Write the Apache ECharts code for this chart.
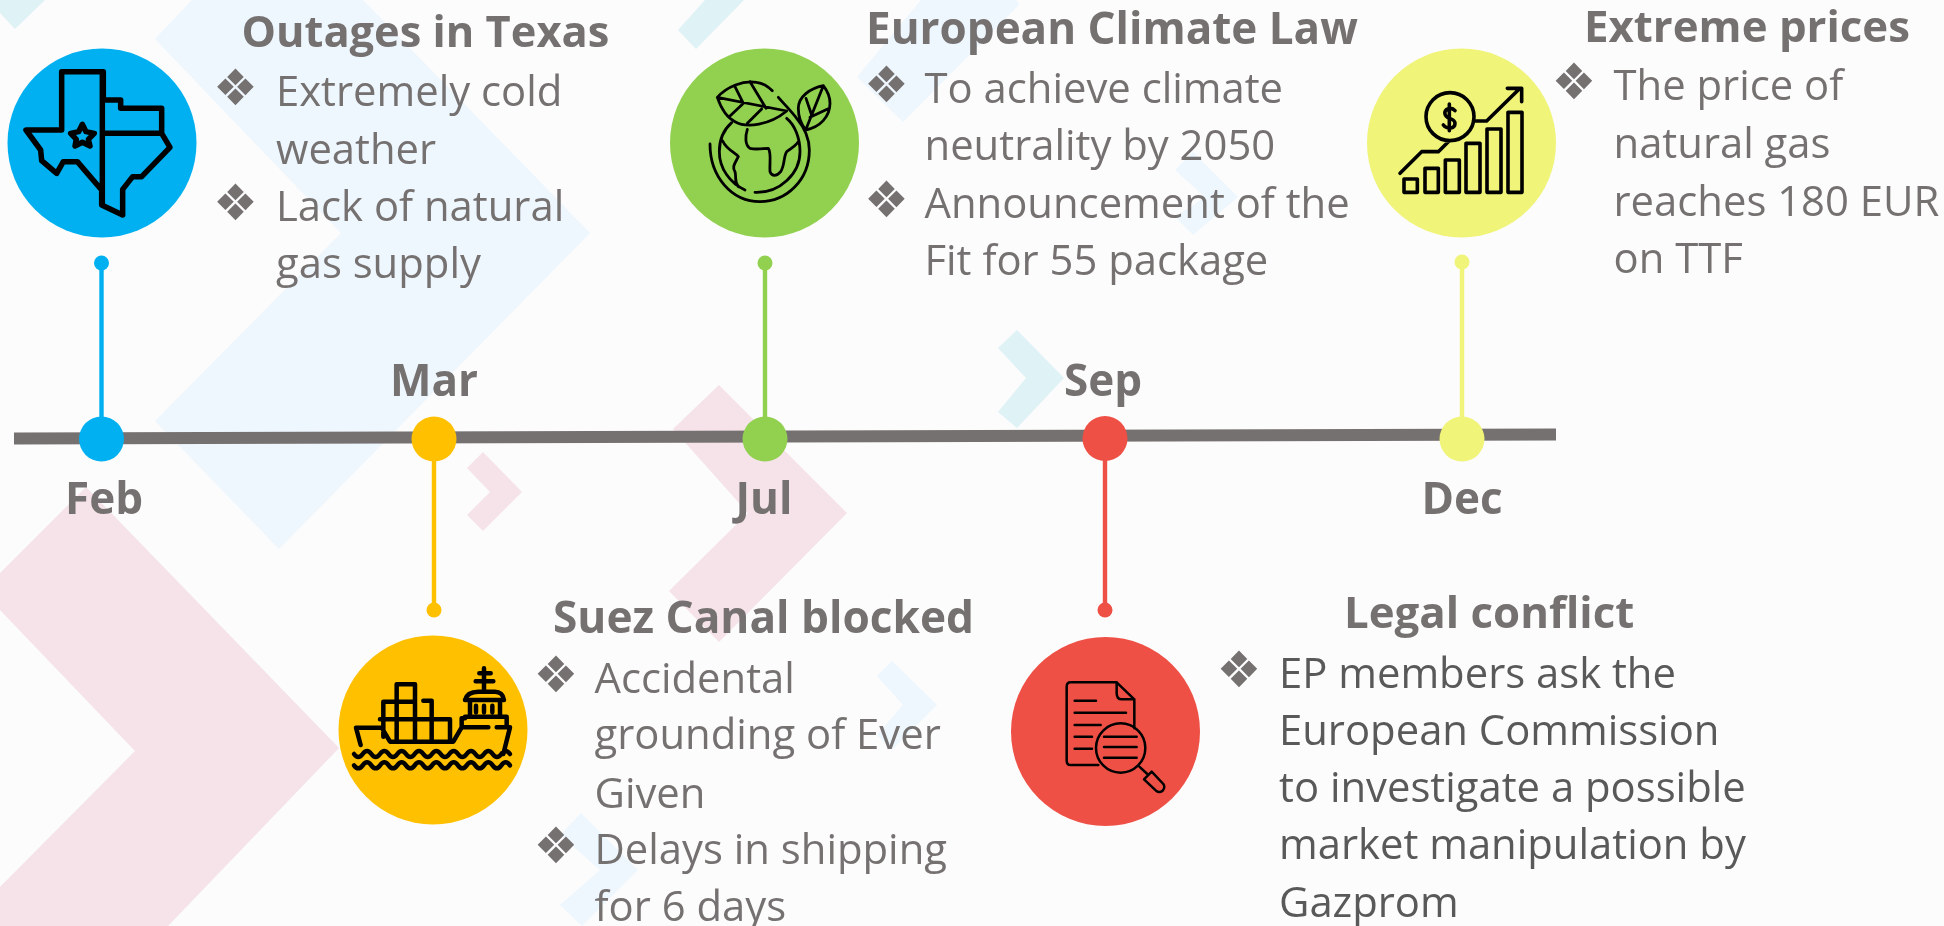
<!DOCTYPE html>
<html>
<head>
<meta charset="utf-8">
<title>Timeline</title>
<style>
  html, body { margin: 0; padding: 0; background: #fcfcfc; }
  #main { width: 1944px; height: 926px; }
</style>
<script src="https://cdn.jsdelivr.net/npm/echarts@6/dist/echarts.min.js"></script>
</head>
<body>
<div id="main"></div>
<script>
// data
var months = ['Feb', 'Mar', 'Jul', 'Sep', 'Dec'];
var titles = ['Outages in Texas', 'Suez Canal blocked', 'European Climate Law', 'Legal conflict', 'Extreme prices'];
var bullets = [
  [['Extremely cold', 'weather'], ['Lack of natural', 'gas supply']],
  [['Accidental', 'grounding of Ever', 'Given'], ['Delays in shipping', 'for 6 days']],
  [['To achieve climate', 'neutrality by 2050'], ['Announcement of the', 'Fit for 55 package']],
  [['EP members ask the', 'European Commission', 'to investigate a possible', 'market manipulation by', 'Gazprom']],
  [['The price of', 'natural gas', 'reaches 180 EUR', 'on TTF']]
];
var eventX = [101.5, 434, 765, 1105, 1462];
var axisY = [439, 439, 439, 438.5, 439];
var stemEndY = [263, 610, 263, 610, 262];
var circleX = [102, 433, 764.5, 1105.5, 1461.5];
var circleY = [143, 730, 143, 731.5, 143];
var timelineX = [14, 1556];
var timelineY = [438.5, 434.5];

var colors = ['#00b0f0', '#ffc000', '#92d050', '#ef5046', '#f0f478'];
var grey = '#767171';
var font = 'Open Sans';

// where each text block sits: title x/baseline, title size, bullet x, body x, baselines of the rows
var textLayout = [
  { tx: 241.5, ty: 46, ts: 43.4, bx: 235.5, lx: 276, rows: [105, 163, 220, 277] },
  { tx: 553, ty: 632, ts: 44.2, bx: 556, lx: 594.5, rows: [692, 748, 807, 863, 920] },
  { tx: 866, ty: 43, ts: 44, bx: 886.5, lx: 924.5, rows: [102, 159, 217, 274] },
  { tx: 1344, ty: 627, ts: 43.8, bx: 1239, lx: 1279, rows: [687, 744, 801, 858, 916], dark: true },
  { tx: 1584, ty: 41, ts: 43.8, bx: 1574, lx: 1613.5, rows: [99, 157, 215, 272] }
];
var monthLabelX = [104, 434, 764, 1103, 1462];
var monthLabelY = [513, 395, 513, 395, 513];

// background chevrons
var chevrons = [
  { color: '#eef7fe', pts: [[192, 0], [363, 0], [590, 233], [279, 549], [155, 421], [341, 233], [155, 39]] },
  { color: '#f5e3e9', pts: [[86, 487], [339, 748], [168, 926], [0, 926], [0, 887], [135, 751], [0, 610], [0, 573]] },
  { color: '#f5e3e9', pts: [[483, 452], [522, 492], [483, 531], [467, 515], [490, 492], [467, 468]] },
  { color: '#f5e3e9', pts: [[719, 385], [847, 513], [719, 642], [669, 591], [748, 513], [673, 429]] },
  { color: '#eef7fe', pts: [[892, 661], [937, 705], [892, 750], [877, 735], [903, 705], [877, 676]] },
  { color: '#eef7fe', pts: [[581, 813], [638, 870], [582, 926], [560, 905], [600, 870], [560, 835]] },
  { color: '#eef7fe', pts: [[921, 0], [1017, 0], [1019, 5], [903, 122], [857, 77]] },
  { color: '#eef7fe', pts: [[1193, 152], [1238, 197], [1193, 235], [1175, 217], [1205, 197], [1175, 170]] },
  { color: '#dff2f6', pts: [[0, 0], [45, 0], [15, 29], [0, 13]] },
  { color: '#dff2f6', pts: [[705, 0], [744, 0], [696, 49], [678, 30]] },
  { color: '#dff2f6', pts: [[1017, 330], [1064, 378], [1017, 428], [998, 412], [1026, 378], [998, 348]] }
];

// icons, drawn in a 630x630 box (3 units per pixel), the two stray moves pin the box
var box = 'M0 0 M630 630 ';
var icons = [
  { cx: 105, cy: 135, lw: 5.5,
    d: box + 'M185 125 H310 V210 H362 V235 H485 V310 L510 352 L425 440 H398 L368 478 V555 L305 525 V480 L232 395 H190 L170 430 L125 392 L122 360 L78 300 H185 Z ' +
      'M185 125 V300 M307 125 V525 M310 310 H485 ' +
      'M247 283 L258 305 L283 310 L265 328 L270 348 L247 337 L225 348 L229 328 L212 310 L236 305 Z' },
  { cx: 435, cy: 735, lw: 4.5,
    d: box + 'M92 345 L78 293 H155 L180 335 H370 L395 292 H475 M500 292 H540 L520 372 ' +
      'M160 320 V215 H200 M200 163 H255 V330 M200 163 V330 M150 268 H360 V330 M280 212 H305 V330 M255 215 H200 ' +
      'M405 260 H530 V292 M395 292 V265 H405 M405 210 C410 190 430 185 445 185 H495 C510 185 520 195 522 210 H405 Z M420 210 V260 M510 210 V260 ' +
      'M438 227 V247 M462 227 V247 M487 227 V247 M462 115 V185 M437 154 H490 M448 130 H482 ' +
      'M72 372 Q85 390 98 372 T124 372 T150 372 T176 372 T202 372 T228 372 T254 372 T280 372 T306 372 T332 372 T358 372 T384 372 T410 372 T436 372 T462 372 T488 372 T514 372 T540 372 ' +
      'M72 406 Q85 424 98 406 T124 406 T150 406 T176 406 T202 406 T228 406 T254 406 T280 406 T306 406 T332 406 T358 406 T384 406 T410 406 T436 406 T462 406 T488 406 T514 406 T540 406' },
  { cx: 765, cy: 145, lw: 2.8,
    d: box + 'M172 172 C200 140 250 120 290 127 C310 130 325 140 337 152 M172 172 L380 213 M172 172 C185 210 205 235 225 245 C260 265 330 255 380 213 ' +
      'M225 140 L250 190 M270 125 L318 205 M248 192 L210 228 M305 207 L262 250 ' +
      'M490 137 C450 145 415 170 415 205 C415 230 425 255 437 270 C480 262 510 230 510 190 C510 170 500 150 490 137 Z M490 137 L437 270 M438 175 L455 225 M503 207 L450 232 ' +
      'M355 172 C375 195 395 215 410 235 C435 265 448 295 448 330 C448 420 380 485 300 485 C215 485 150 410 150 312 ' +
      'M215 248 C190 270 178 300 178 335 C178 385 210 430 255 450 M285 457 C360 460 420 400 420 335 C420 295 405 255 380 235 ' +
      'M262 268 C255 290 255 315 270 325 C290 330 310 325 325 325 C335 340 328 370 330 395 C335 410 350 410 362 395 C375 375 370 350 380 335 C395 325 410 315 415 305 ' +
      'M188 303 C200 330 230 340 235 350 C225 370 215 380 225 395 C230 415 222 425 235 440' },
  { cx: 1105, cy: 735, lw: 2.5,
    d: box + 'M350 157 H212 Q200 157 200 170 V392 Q200 405 212 405 H295 M403 208 V295 M350 157 L403 208 H365 Q350 208 350 190 Z ' +
      'M224 212 H288 M224 248 H378 M224 285 H302 M224 320 H276 M224 356 H276 ' +
      'M436 354 A74 74 0 1 1 288 354 A74 74 0 1 1 436 354 Z M312 320 H410 M312 351 H410 M312 383 H410 ' +
      'M418 410 L442 432 M432 448 L455 425 L490 462 Q497 472 488 482 Q478 490 468 482 Z' },
  { cx: 1465, cy: 145, lw: 3.6,
    d: box + 'M132 417 H172 V457 H132 Z M195 385 H235 V457 H195 Z M256 360 H298 V457 H256 Z M318 310 H360 V457 H318 Z M381 267 H423 V457 H381 Z M444 217 H486 V457 H444 Z ' +
      'M120 400 L185 335 H235 L265 305 M340 243 H380 L480 145 M442 145 H485 V185 ' +
      'M342 230 A72 72 0 1 1 198 230 A72 72 0 1 1 342 230 Z ' +
      'M285 212 C275 200 252 205 255 222 C258 240 285 232 285 250 C285 268 260 268 250 255 M268 192 V272' }
];

// all texts flattened, y is the baseline
var textRows = [];
months.forEach(function (m, i) {
  textRows.push({ x: monthLabelX[i], y: monthLabelY[i], text: m, size: 44, weight: 700, align: 'center', color: grey });
});
titles.forEach(function (t, i) {
  var l = textLayout[i];
  textRows.push({ x: l.tx, y: l.ty, text: t, size: l.ts, weight: 700, align: 'left', color: grey });
  var r = 0;
  bullets[i].forEach(function (b) {
    textRows.push({ x: l.bx, y: l.rows[r] + 1, text: '\u2756', size: 50, weight: 400, align: 'center', color: grey, family: 'DejaVu Sans' });
    b.forEach(function (line) {
      textRows.push({ x: l.lx, y: l.rows[r], text: line, size: 41.8, weight: 400, align: 'left', color: l.dark ? '#595959' : grey });
      r++;
    });
  });
});

var series = [];

series.push({
  type: 'custom',
  name: 'chevrons',
  z: 1,
  silent: true,
  data: chevrons.map(function (c, i) { return [i]; }),
  renderItem: function (params, api) {
    var c = chevrons[params.dataIndex];
    return {
      type: 'polygon',
      shape: { points: c.pts.map(function (p) { return api.coord(p); }) },
      style: { fill: c.color }
    };
  }
});

series.push({
  type: 'line',
  name: 'timeline',
  z: 3,
  symbol: 'none',
  silent: true,
  lineStyle: { color: grey, width: 12 },
  data: [[timelineX[0], timelineY[0]], [timelineX[1], timelineY[1]]]
});

months.forEach(function (m, i) {
  series.push({
    type: 'line',
    name: m + ' stem',
    z: 4,
    symbol: 'none',
    silent: true,
    lineStyle: { color: colors[i], width: 4.4 },
    data: [[eventX[i], axisY[i]], [eventX[i], stemEndY[i]]]
  });
  series.push({
    type: 'scatter',
    name: m,
    z: 5,
    silent: true,
    symbol: 'circle',
    itemStyle: { color: colors[i], opacity: 1 },
    data: [
      { value: [eventX[i], axisY[i]], symbolSize: 45 },
      { value: [eventX[i], stemEndY[i]], symbolSize: 15 },
      { value: [circleX[i], circleY[i]], symbolSize: 189 }
    ]
  });
});

series.push({
  type: 'scatter',
  name: 'icons',
  z: 6,
  silent: true,
  data: icons.map(function (ic) {
    return {
      value: [ic.cx, ic.cy],
      symbol: 'path://' + ic.d,
      symbolSize: 210,
      itemStyle: {
        color: 'transparent', opacity: 1, borderColor: '#000', borderWidth: ic.lw,
        borderCap: 'round', borderJoin: 'round'
      }
    };
  })
});

series.push({
  type: 'custom',
  name: 'texts',
  z: 7,
  silent: true,
  data: textRows.map(function (t) { return [t.x, t.y]; }),
  renderItem: function (params, api) {
    var t = textRows[params.dataIndex];
    var p = api.coord([t.x, t.y]);
    return {
      type: 'text',
      x: p[0],
      y: p[1] - t.size * 0.27,
      style: {
        text: t.text,
        fill: t.color,
        fontFamily: t.family || font,
        fontSize: t.size,
        fontWeight: t.weight,
        textAlign: t.align,
        textVerticalAlign: 'middle'
      }
    };
  }
});

var chart = echarts.init(document.getElementById('main'));
chart.setOption({
  animation: false,
  backgroundColor: '#fcfcfc',
  grid: { left: 0, right: 0, top: 0, bottom: 0 },
  xAxis: { type: 'value', min: 0, max: 1944, show: false },
  yAxis: { type: 'value', min: 0, max: 926, inverse: true, show: false },
  series: series
});
</script>
</body>
</html>
